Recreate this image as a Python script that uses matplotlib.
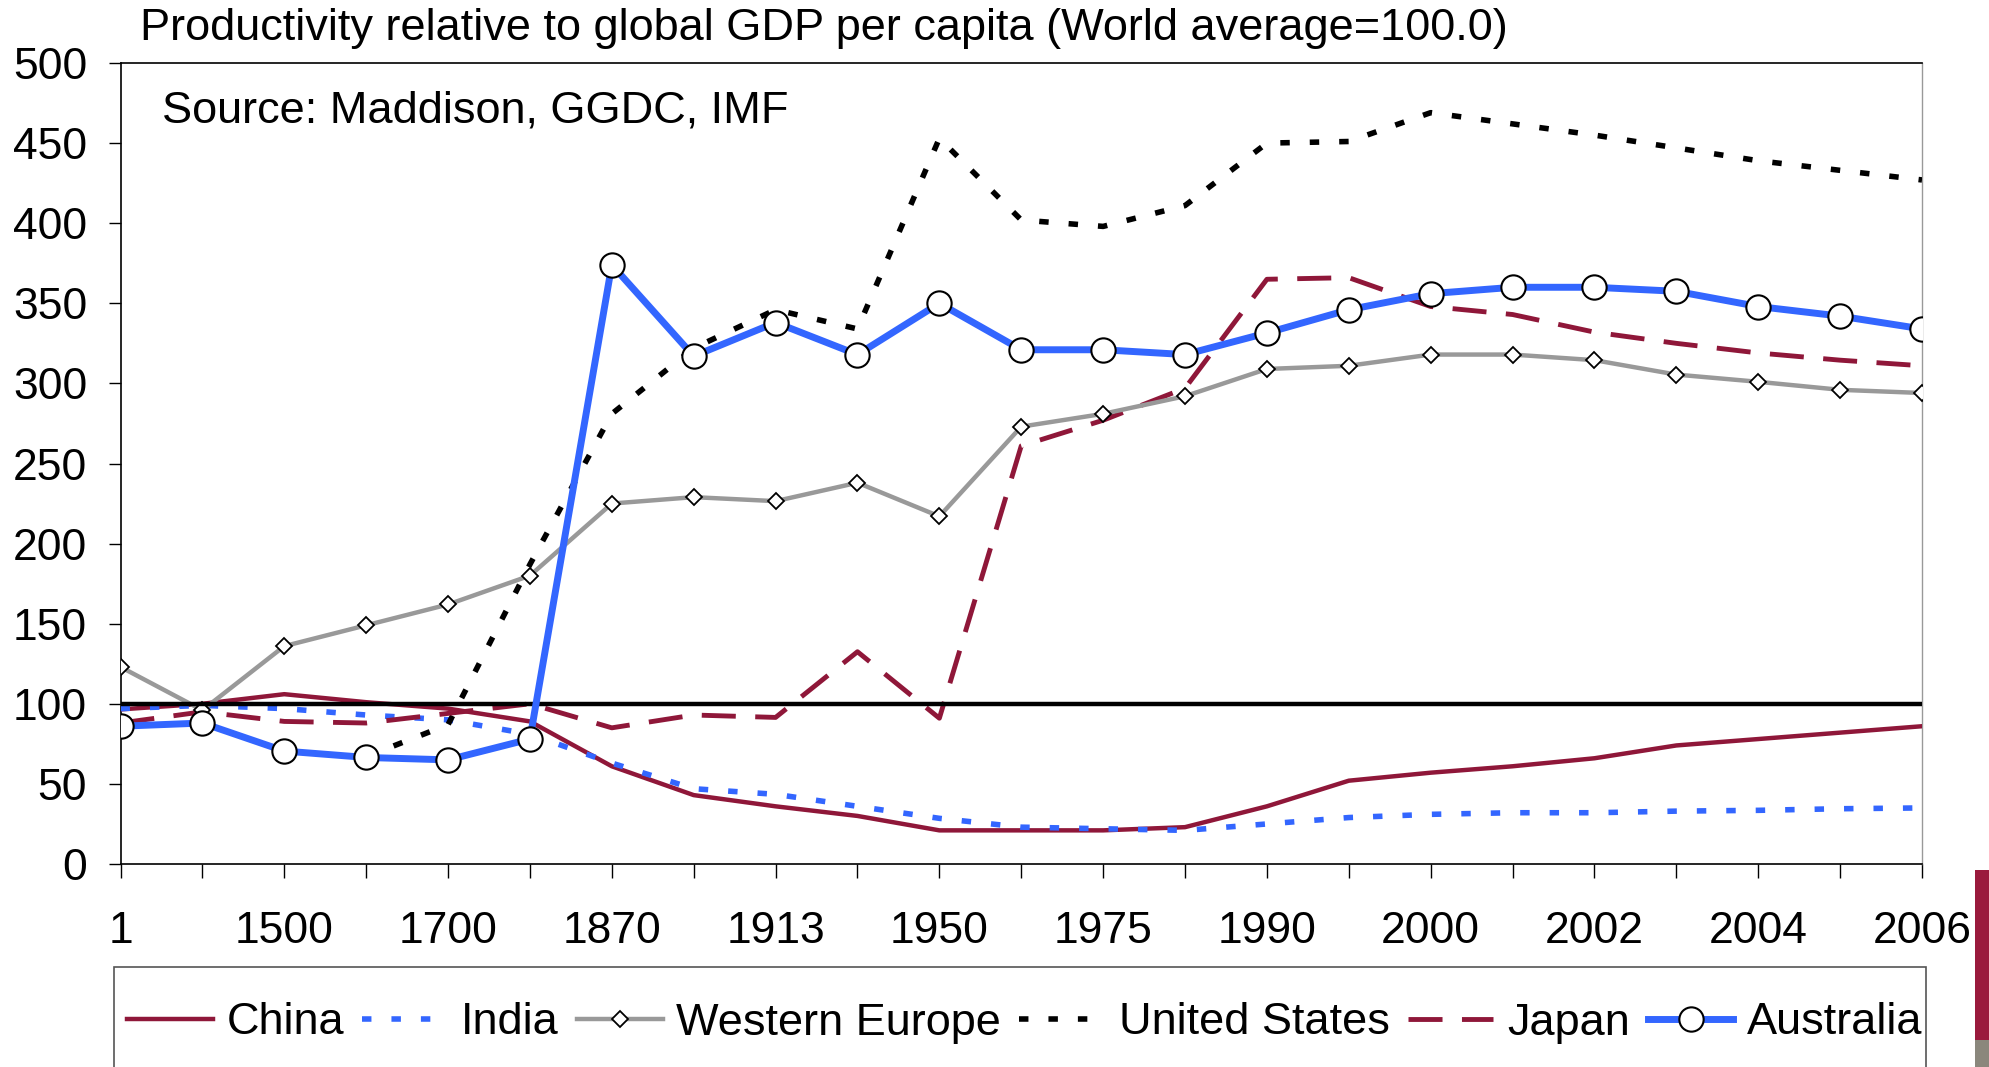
import numpy as np
import matplotlib
matplotlib.use("Agg")
import matplotlib.pyplot as plt
from matplotlib.patches import Rectangle

plt.rcParams["font.family"] = ["Liberation Sans", "DejaVu Sans"]

# Data (World average = 100)
years = ["1", "1000", "1500", "1600", "1700", "1820", "1870", "1900", "1913", "1940",
         "1950", "1960", "1975", "1980", "1990", "1995", "2000", "2001", "2002", "2003",
         "2004", "2005", "2006"]
china = [96.5, 100, 106, 101, 97, 89, 61, 43, 36, 30, 21, 21, 21, 23, 36, 52, 57, 61,
         66, 74, 78, 82, 86]
india = [97, 99, 97, 93, 90, 81, 63, 47, 43.5, 36, 28.5, 23, 22, 21, 25, 29, 31, 32,
         32, 33, 33.5, 34.5, 35]
western_europe = [123, 96, 136, 149, 162, 180, 225, 229, 226.5, 238, 217, 273, 281, 292,
                  309, 311, 318, 318, 314.5, 305.5, 301, 296, 294]
united_states = [np.nan, np.nan, np.nan, 67, 87, 187, 281, 322, 346, 334, 453, 402, 398,
                 411, 450, 451, 469, 462, 455, 447, 439, 433, 427]
japan = [88, 95, 89, 88, 94, 100, 85, 93, 91.5, 132.5, 91, 261, 277, 297, 365, 366, 348,
         343, 332, 325, 319, 314.5, 311]
australia = [86, 88, 70.5, 66.5, 65, 78, 374, 317, 338, 318, 350, 321, 321, 318, 331.5,
             346, 356, 360, 360, 357.5, 348, 342, 334]
world_avg = 100.0

maroon = "#8F1739"
blue = "#3366FF"
grey = "#999999"

W, H = 1989, 1067
fig = plt.figure(figsize=(W / 100, H / 100), dpi=100)
ax = fig.add_axes([120.5 / W, 1 - 864 / H, (1922 - 120.5) / W, (864 - 63) / H])

x = np.arange(len(years))

ax.plot(x, china, color=maroon, lw=3.2, label="China", zorder=3)
ax.plot(x, india, color=blue, lw=4, dashes=(1.7, 3.6), label="India", zorder=3)
ax.plot(x, western_europe, color=grey, lw=3.2, marker="D", markersize=8.5,
        markerfacecolor="white", markeredgecolor="black", markeredgewidth=1.3,
        label="Western Europe", zorder=4)
ax.plot(x, united_states, color="black", lw=4, dashes=(1.7, 3.6),
        label="United States", zorder=3)
ax.plot(x, japan, color=maroon, lw=3.5, dashes=(7, 4), label="Japan", zorder=3)
ax.axhline(world_avg, color="black", lw=3.2, zorder=5)
ax.plot(x, australia, color=blue, lw=5, marker="o", markersize=17.5,
        markerfacecolor="white", markeredgecolor="black", markeredgewidth=1.5,
        label="Australia", zorder=6)

ax.set_xlim(0, len(years) - 1)
ax.set_ylim(0, 500)
ax.set_yticks(np.arange(0, 501, 50))
ax.set_xticks(x)
ax.set_xticklabels([y if i % 2 == 0 else "" for i, y in enumerate(years)])

ax.tick_params(axis="y", direction="out", length=9, width=1, pad=15, labelsize=32)
ax.tick_params(axis="x", direction="out", length=10, width=1, pad=24, labelsize=32)
for s in ["left", "bottom", "top"]:
    ax.spines[s].set_color("black")
    ax.spines[s].set_linewidth(1.2)
ax.spines["right"].set_color("#999999")
ax.spines["right"].set_linewidth(1)

fig.text(139.5 / W, 1 - 40 / H, "Productivity relative to global GDP per capita (World average=100.0)",
         fontsize=32.5, ha="left", va="baseline")
fig.text(162 / W, 1 - 123 / H, "Source: Maddison, GGDC, IMF", fontsize=32.5,
         ha="left", va="baseline")

# legend box (runs off the bottom of the slide)
fig.patches.append(Rectangle((114 / W, -0.05), (1926 - 114) / W, 0.05 + 1 - 967 / H,
                             transform=fig.transFigure, facecolor="white",
                             edgecolor="#555555", lw=1.2, zorder=0))
handles, labels = ax.get_legend_handles_labels()
fig.legend(handles, labels, loc="center left", bbox_to_anchor=(127 / W, 1 - 1023 / H),
           ncol=6, frameon=False, fontsize=32.5, borderpad=0, borderaxespad=0,
           handlelength=1.9, handletextpad=0.3, columnspacing=0.4, numpoints=1)

# slide decoration on the right edge
fig.patches.append(Rectangle((1975 / W, 1 - 1040 / H), 14 / W, 170 / H,
                             transform=fig.transFigure, color="#9A1A3C", lw=0))
fig.patches.append(Rectangle((1975 / W, 0), 14 / W, 27 / H,
                             transform=fig.transFigure, color="#8A877C", lw=0))

fig.savefig("out.png", dpi=100)
